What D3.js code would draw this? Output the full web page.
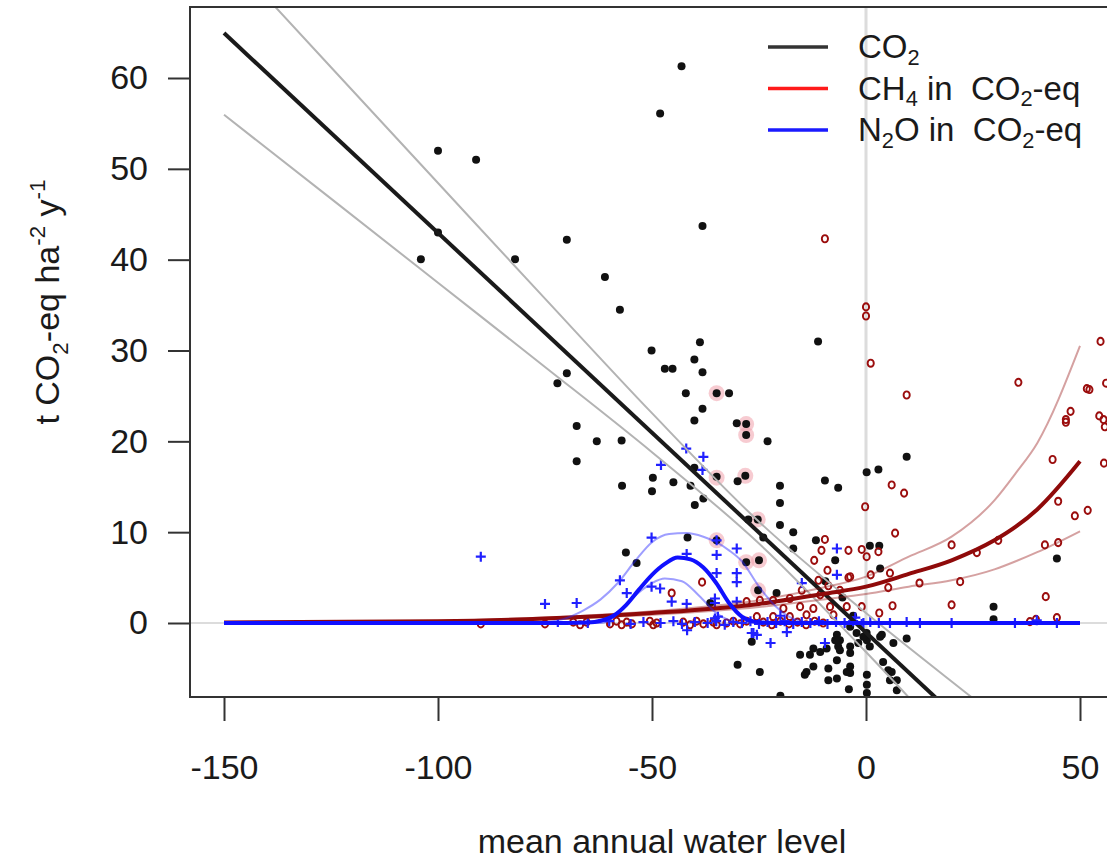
<!DOCTYPE html>
<html>
<head>
<meta charset="utf-8">
<script src="https://cdn.jsdelivr.net/npm/d3@7"></script>
<style>
  html, body { margin: 0; padding: 0; background: #fff; }
  svg { display: block; }
  text { font-family: "Liberation Sans", Arial, Helvetica, sans-serif; fill: #1a1a1a; white-space: pre; }
</style>
</head>
<body>
<svg id="chart" width="1107" height="863"></svg>
<script>
// ---------------- DATA ----------------
const xTicks = [-150, -100, -50, 0, 50];
const yTicks = [0, 10, 20, 30, 40, 50, 60];
const xTitle = "mean annual water level";

// CO2 observations (black dots)
const co2Points = [
  [-100, 52.0], [-91.1, 51.0], [-100, 43.0], [-104, 40.05], [-43.1, 61.3], [-48.1, 56.1], [-38.2, 43.7],
  [-69.9, 42.2], [-82, 40.05], [-61, 38.1], [-57.5, 34.5], [-38.8, 30.9], [-50.1, 30.0], [-40.1, 29.0],
  [-47, 28.0], [-45.2, 28.0], [-38.2, 27.6], [-69.9, 27.5], [-72.1, 26.4], [-42.1, 25.3], [-34.9, 25.3],
  [-32, 25.3], [-38.2, 23.6], [-40.1, 22.3], [-30.2, 22.0], [-28, 21.9], [-28, 20.7], [-67.6, 21.7],
  [-23, 20.0], [-62.9, 20.0], [-57.1, 20.1], [-67.6, 17.8], [-40.1, 17.1], [-34.9, 16.1], [-49.8, 16.0],
  [-28.2, 16.2], [-57, 15.1], [-50, 14.5], [-45, 15.5], [-41, 15.1], [-38, 13.7], [-40, 13.0], [-41.7, 9.4],
  [-56.1, 7.75], [-53.6, 6.6], [-30, -4.6], [-30.0, 15.6], [-26.7, -2.06], [-27.5, 11.4], [-25.3, 11.4],
  [-24, 9.4], [-20.1, 15.1], [-6.5, 14.9], [-20.1, 13.2], [-20.1, 10.8], [-17, 10.0], [-11.7, 9.1],
  [-9.6, 15.7], [-7.2, 6.9], [-17, 8.2], [0.9, 8.5], [3.1, 8.5], [0.15, 16.6], [2.9, 16.9], [9.5, 18.3],
  [3.3, 6.0], [29.8, 1.8], [29.8, 0.4], [44.6, 7.1], [9.5, -1.7], [-20.9, 3.3], [-36.4, 2.2], [-11.2, 31.0],
  [-28, 6.7], [-25, 6.9], [-25.2, 3.6], [-34.9, 9.1],
  [-6.8, -1.3], [-6.1, -1.9], [-6.5, -2.6], [-3.7, -2.6], [-3.7, -3.3], [-1.8, -2.2], [0.15, -1.1],
  [0.2, -1.9], [3.7, -1.3], [6.4, -2.2], [4.0, -4.3], [6.0, -5.4], [7.2, -7.4], [7.2, -6.3], [0.2, -5.7],
  [0.2, -6.8], [-3.7, -5.5], [-8.8, -5.0], [-12.3, -2.8], [-10.7, -3.2], [-9.2, -2.8], [-13.1, -3.5],
  [-15.4, -3.5], [-12.3, -4.8], [-13.9, -5.4], [-14.3, -5.7], [-4.5, -5.4], [-6.8, -4.1], [-24.8, -5.4],
  [-8.8, -6.3], [0.2, -7.7], [-3.7, -0.4], [-2.2, -1.1], [-0.6, -1.5], [0.9, -2.6], [3.3, -1.5],
  [-4, -7.3], [-20, -8.0], [5.2, -5.2], [5.6, -6.3], [-3.7, -4.8], [-6.8, -6.1], [-7.2, -1.9],
  [-6.1, -3.0], [-5.5, 2.8], [-9.5, 4.6], [-3, 0.8]
];

// CH4 observations in CO2-eq (dark red open circles)
const ch4Points = [
  [-9.6, 42.3], [0, 34.8], [0, 33.8], [1.1, 28.6], [9.5, 25.1], [35.6, 26.5], [54.8, 31.0], [51.6, 25.8],
  [52.2, 25.7], [56.1, 26.4], [47.8, 23.3], [46.7, 22.4], [46.7, 22.1], [54.5, 22.8], [55.5, 22.4],
  [55.8, 21.6], [43.6, 18.0], [55.6, 17.6], [44.9, 13.4], [48.8, 11.8], [51.8, 12.4], [41.8, 8.6],
  [44.9, 8.85], [30.9, 9.1], [20.0, 8.6], [25.9, 7.75], [22.0, 4.55], [12.5, 4.4], [5.2, 3.9], [5.6, 5.5],
  [6.0, 15.2], [8.9, 14.3], [-0.2, 12.8], [6.8, 9.9], [-1.0, 8.1], [2.9, 7.85], [0.15, 7.3], [1.1, 5.3],
  [-3.7, 5.1], [20.0, 2.0], [6.2, 1.9], [3.1, 1.1], [42.0, 2.9], [44.6, 0.6], [38.3, 0.15], [39.7, 0.4],
  [-9.6, 9.2], [-10.4, 8.0], [-12.1, 6.9], [-4.1, 8.0], [-9.0, 5.8], [-4.1, 5.0], [-15.0, 3.6], [-1.0, 1.8],
  [-11.1, 4.7], [-8.8, 4.1], [-6.1, 3.6], [-10.7, 3.1], [-17.8, 2.7], [-21.7, 2.5], [-24.8, 2.5],
  [-27.9, 2.35], [-19.3, 1.6], [-15.4, 1.8], [-12.3, 1.6], [-8.4, 1.8], [-13.9, 0.9], [-17.8, 0.7],
  [-21.7, 0.7], [-25.5, 0.7], [-27.9, 0.2], [-7.6, 0.9], [-4.5, 1.8], [-45.4, 3.3], [-38.3, 4.5],
  [-90, -0.1], [-75, -0.1], [-68.4, 0.1], [-66.8, -0.2], [-65.3, 0.1], [-59.8, -0.1], [-58.3, 0.2],
  [-57.1, -0.2], [-55.9, 0.1], [-54.7, -0.1], [-50.5, 0.2], [-49.7, -0.2], [-48.9, 0.0], [-42.7, 0.1],
  [-41.1, -0.2], [-39.6, 0.2], [-38.0, -0.1], [-35.7, 0.1], [-34.9, -0.2], [-32.6, 0.0], [-31.0, 0.2],
  [-29.4, -0.1], [-24, 0.1], [-22, -0.2], [-20, 0.2], [-18, -0.1], [-16, 0.1], [-14, -0.2], [-12, 0.2], [-10, 0.0]
];

// N2O observations in CO2-eq (blue crosses)
const n2oPoints = [
  [-90, 7.3], [-75, 2.1], [-67.6, 2.2], [-50.1, 9.4], [-42, 19.2], [-38, 18.3], [-47.9, 17.4], [-38.2, 16.85],
  [-41.9, 7.6], [-34.9, 7.5], [-34.9, 5.5], [-30.2, 8.2], [-30.2, 5.5], [-30.2, 4.5], [-57.5, 4.7],
  [-55.9, 3.3], [-50.1, 4.0], [-48.1, 3.8], [-45.4, 2.35], [-41.9, 2.1], [-41.8, -0.8], [-30.2, 2.35],
  [-35.3, 2.7], [-35.3, 2.2], [-26.3, -1.1], [-26.7, -1.1], [-25.5, -1.3], [-22.3, -2.2], [-9.6, -2.2],
  [-18.5, -1.0], [-6.8, 8.2], [-15, 4.4], [-6.8, 5.3], [-34.9, 9.1],
  [-0.6, 0], [5.6, 0], [9.5, 0.1], [12.6, 0], [20.0, 0], [34.8, 0], [39.9, 0.3], [44.6, 0],
  [-72, 0.1], [-65, 0], [-60, 0.2], [-55, -0.1], [-52, 0.1], [-48, 0], [-45, 0.2], [-43, -0.1],
  [-40, 0.1], [-37, 0], [-35.3, 0.5], [-35.0, 0.2], [-34.6, 0.7], [-33, -0.2], [-31, 0.1], [-29, 0],
  [-27, 0.2], [-25, -0.1], [-23, 0.1], [-21, 0], [-19, 0.2], [-17, -0.1], [-15, 0.1], [-13, 0],
  [-11, 0.2], [-9, -0.1], [-7, 0.1], [-5, 0], [-3, 0.2], [-1, -0.1], [1, 0.1], [3, 0], [-2.5, 0.6], [-20, 0.8]
];

// highlighted observations (pink halos)
const highlightPoints = [
  [-34.9, 25.3], [-28, 21.9], [-28, 20.7], [-28.2, 16.2], [-34.9, 16.0], [-25.3, 11.4],
  [-34.9, 9.1], [-28.0, 6.7], [-25.0, 6.9], [-25.2, 3.6]
];

// fitted curves: [water level, value]
const co2Fit = [[-150, 64.95], [50, -23.05]];
const co2Upper = [[-150, 73.95], [-125, 61.18], [-100, 48.44], [-75, 35.71], [-50, 23.1], [-25, 11.15], [0, 1.1], [25, -8.29], [50, -17.56]];
const co2Lower = [[-150, 55.95], [-125, 46.72], [-100, 37.46], [-75, 28.19], [-50, 18.8], [-25, 8.75], [0, -3.2], [25, -15.81], [50, -28.54]];

const ch4Fit = [[-150, 0.05], [-100, 0.2], [-75, 0.5], [-50, 1.1], [-25, 2.1], [-10, 3.2], [0, 4.0], [10, 5.4], [20, 6.9], [30, 9.1], [35, 10.6], [40, 12.5], [50, 17.8]];
const ch4Upper = [[-150, 0.06], [-100, 0.25], [-75, 0.6], [-50, 1.3], [-25, 2.5], [-10, 3.9], [0, 5.1], [10, 7.3], [20, 9.5], [30, 13.5], [35, 16.5], [40, 19.8], [50, 30.5]];
const ch4Lower = [[-150, 0.04], [-100, 0.16], [-75, 0.4], [-50, 0.9], [-25, 1.75], [-10, 2.6], [0, 3.2], [10, 4.0], [20, 4.7], [30, 5.9], [35, 6.8], [40, 7.8], [50, 10.1]];

const n2oFit = [[-150, 0], [-70, 0], [-65, 0.05], [-62, 0.25], [-59, 0.8], [-56, 2.0], [-53, 3.7], [-50, 5.3], [-47, 6.5], [-44, 7.2], [-41, 7.0], [-38, 6.1], [-35, 4.4], [-32, 2.2], [-29, 0.7], [-26, 0.15], [-22, 0], [50, 0]];
const n2oUpper = [[-150, 0], [-80, 0], [-75, 0.1], [-71, 0.4], [-66, 1.4], [-62, 2.6], [-58, 4.4], [-54, 6.8], [-50, 8.9], [-46, 9.8], [-42, 9.9], [-38, 9.5], [-35, 8.9], [-32, 8.0], [-29, 6.8], [-25, 4.0], [-21, 1.8], [-18, 0.7], [-15, 0.2], [-12, 0], [50, 0]];
const n2oLower = [[-150, 0], [-62, 0], [-59, 0.6], [-56.7, 1.8], [-53, 3.4], [-50, 4.4], [-47, 4.9], [-43, 4.6], [-39, 3.0], [-35, 1.1], [-32, 0.3], [-29, 0], [50, 0]];

const legendItems = [
  { key: "co2", parts: [["CO", 0], ["2", -1]] },
  { key: "ch4", parts: [["CH", 0], ["4", -1], [" in  CO", 0], ["2", -1], ["-eq", 0]] },
  { key: "n2o", parts: [["N", 0], ["2", -1], ["O in  CO", 0], ["2", -1], ["-eq", 0]] }
];
const yTitleParts = [["t CO", 0], ["2", -1], ["-eq ha", 0], ["-2", 1], [" y", 0], ["-1", 1]];

// ---------------- LAYOUT ----------------
const svg = d3.select("#chart");
const box = { left: 190, right: 1115, top: 7, bottom: 697 };
const x = d3.scaleLinear().domain([-150, 50]).range([224, 1080]);
const y = d3.scaleLinear().domain([0, 60]).range([623, 78]);
const FS = 34;
const LFS = 33;
const legendColors = { co2: "#333333", ch4: "#ff1a1a", n2o: "#1a1aff" };

svg.append("defs").append("clipPath").attr("id", "clip")
  .append("rect").attr("x", box.left).attr("y", box.top)
  .attr("width", box.right - box.left).attr("height", box.bottom - box.top);

const plot = svg.append("g").attr("clip-path", "url(#clip)");

// reference lines
plot.append("line").attr("x1", x(0)).attr("x2", x(0)).attr("y1", box.top).attr("y2", box.bottom)
  .attr("stroke", "#dcdcdc").attr("stroke-width", 3);
plot.append("line").attr("x1", box.left).attr("x2", box.right).attr("y1", y(0)).attr("y2", y(0))
  .attr("stroke", "#dcdcdc").attr("stroke-width", 2);

// highlight halos
plot.append("g").selectAll("circle").data(highlightPoints).join("circle")
  .attr("cx", d => x(d[0])).attr("cy", d => y(d[1])).attr("r", 8)
  .attr("fill", "rgba(240,160,172,0.55)");

// CO2 points
plot.append("g").selectAll("circle").data(co2Points).join("circle")
  .attr("cx", d => x(d[0])).attr("cy", d => y(d[1])).attr("r", 4)
  .attr("fill", "#111");

// CH4 points
plot.append("g").selectAll("ellipse").data(ch4Points).join("ellipse")
  .attr("cx", d => x(d[0])).attr("cy", d => y(d[1])).attr("rx", 3.1).attr("ry", 3.6)
  .attr("fill", "none").attr("stroke", "#9b0d0d").attr("stroke-width", 1.9);

// N2O points
const cross = 5;
plot.append("g").selectAll("path").data(n2oPoints).join("path")
  .attr("d", d => `M${x(d[0]) - cross},${y(d[1])}H${x(d[0]) + cross}M${x(d[0])},${y(d[1]) - cross}V${y(d[1]) + cross}`)
  .attr("stroke", "#2020ff").attr("stroke-width", 2.2).attr("fill", "none");

// curves
const line = d3.line().x(d => x(d[0])).y(d => y(d[1])).curve(d3.curveMonotoneX);
const drawLine = (data, color, width) =>
  plot.append("path").datum(data).attr("d", line).attr("fill", "none")
    .attr("stroke", color).attr("stroke-width", width).attr("stroke-linejoin", "round");

drawLine(co2Upper, "#b3b3b3", 2);
drawLine(co2Lower, "#b3b3b3", 2);
drawLine(co2Fit, "#1a1a1a", 4);
drawLine(ch4Upper, "rgba(150,20,20,0.4)", 2);
drawLine(ch4Lower, "rgba(150,20,20,0.4)", 2);
drawLine(ch4Fit, "#8f0a0a", 4);
drawLine(n2oUpper, "rgba(40,40,255,0.45)", 2);
drawLine(n2oLower, "rgba(40,40,255,0.45)", 2);
drawLine(n2oFit, "#1010ff", 4);

// box
svg.append("rect").attr("x", box.left).attr("y", box.top)
  .attr("width", box.right - box.left).attr("height", box.bottom - box.top)
  .attr("fill", "none").attr("stroke", "#333").attr("stroke-width", 2);

// axes
const fmt = d => String(d);
const yAxis = svg.append("g").attr("transform", `translate(${box.left},0)`)
  .call(d3.axisLeft(y).tickValues(yTicks).tickSize(22).tickPadding(20).tickFormat(fmt));
yAxis.select(".domain").remove();
yAxis.selectAll(".tick line").attr("stroke", "#333").attr("stroke-width", 2);
yAxis.selectAll(".tick text").attr("font-size", FS).attr("fill", "#1a1a1a")
  .attr("font-family", "'Liberation Sans', Arial, sans-serif");

const xAxis = svg.append("g").attr("transform", `translate(0,${box.bottom})`)
  .call(d3.axisBottom(x).tickValues(xTicks).tickSize(24).tickPadding(34).tickFormat(fmt));
xAxis.select(".domain").remove();
xAxis.selectAll(".tick line").attr("stroke", "#333").attr("stroke-width", 2);
xAxis.selectAll(".tick text").attr("font-size", FS).attr("fill", "#1a1a1a")
  .attr("font-family", "'Liberation Sans', Arial, sans-serif");

// axis titles
svg.append("text").attr("x", 662).attr("y", 853).attr("text-anchor", "middle")
  .attr("font-size", FS).text(xTitle);

function richText(sel, parts, fs, subShift) {
  let shift = 0;
  parts.forEach(([t, lvl]) => {
    const target = lvl === -1 ? fs * subShift : lvl === 1 ? -fs * 0.42 : 0;
    sel.append("tspan").attr("dy", target - shift)
      .attr("font-size", lvl === 0 ? fs : fs * 0.66).text(t);
    shift = target;
  });
}
const yt = svg.append("text").attr("transform", "translate(59,302) rotate(-90)")
  .attr("text-anchor", "middle").attr("font-size", FS);
richText(yt, yTitleParts, FS, 0.26);

// legend
const lg = svg.append("g");
legendItems.forEach((item, i) => {
  const ly = 47 + i * 41.5;
  lg.append("line").attr("x1", 768).attr("x2", 828).attr("y1", ly).attr("y2", ly)
    .attr("stroke", legendColors[item.key]).attr("stroke-width", 3.5);
  const t = lg.append("text").attr("x", 858).attr("y", ly + 11).attr("font-size", LFS);
  richText(t, item.parts, LFS, 0.2);
});
</script>
</body>
</html>
